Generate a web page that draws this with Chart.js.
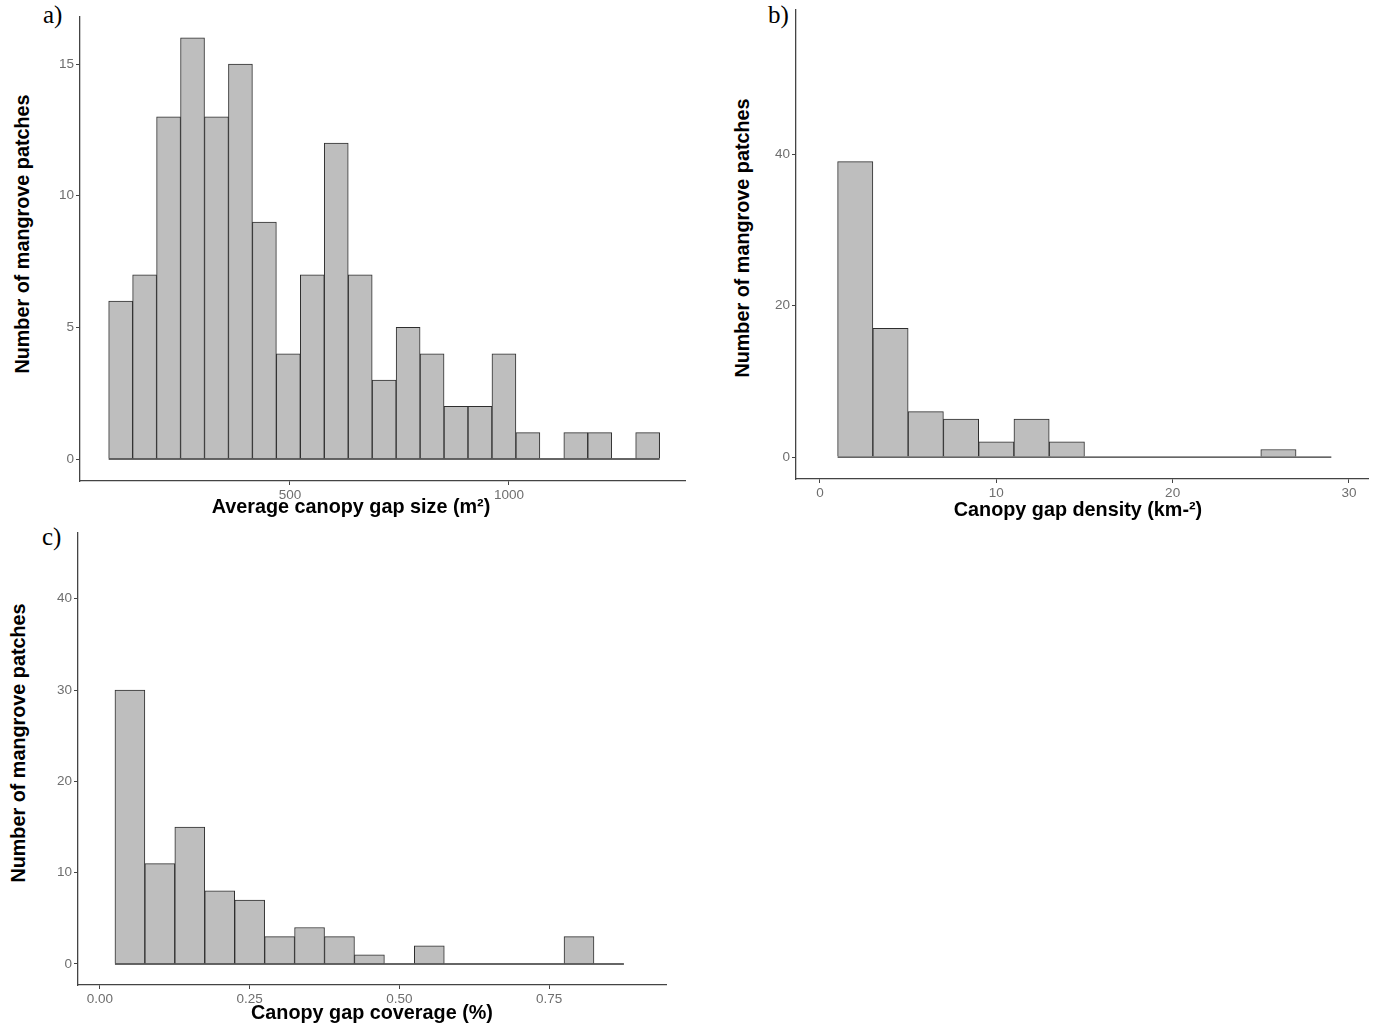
<!DOCTYPE html>
<html>
<head>
<meta charset="utf-8">
<title>Mangrove canopy gap histograms</title>
<script src="https://cdn.jsdelivr.net/npm/chart.js@4.4.1/dist/chart.umd.min.js"></script>
<style>
  body { margin: 0; background: #fff; width: 1384px; height: 1027px; position: relative; overflow: hidden;
         font-family: "Liberation Sans", Arial, sans-serif; }
  canvas { position: absolute; }
  .xtitle, .ytitle { position: absolute; font-weight: bold; font-size: 19.8px; white-space: nowrap; color: #000;
                     transform: translate(-50%, -50%); }
  .ytitle { transform: translate(-50%, -50%) rotate(-90deg); }
  .tag { position: absolute; font-family: "Liberation Serif", "Times New Roman", serif; font-size: 25px; color: #000; }
</style>
</head>
<body>

<div class="tag" style="left:43px; top:1px;">a)</div>
<div class="tag" style="left:768px; top:1px;">b)</div>
<div class="tag" style="left:42px; top:523px;">c)</div>

<canvas id="sizeChart" style="left:40px; top:5px;" width="657" height="498"></canvas>
<canvas id="densityChart" style="left:756px; top:0px;" width="624" height="501"></canvas>
<canvas id="coverageChart" style="left:38px; top:521px;" width="640" height="486"></canvas>

<div class="ytitle" style="left:22px; top:234px;">Number of mangrove patches</div>
<div class="xtitle" style="left:351px; top:506px;">Average canopy gap size (m²)</div>
<div class="ytitle" style="left:742px; top:238px;">Number of mangrove patches</div>
<div class="xtitle" style="left:1078px; top:509px;">Canopy gap density (km-²)</div>
<div class="ytitle" style="left:18px; top:743px;">Number of mangrove patches</div>
<div class="xtitle" style="left:372px; top:1012px;">Canopy gap coverage (%)</div>

<script>
// a) average canopy gap size (m²)
const sizeBinStart = 86;
const sizeBinWidth = 54.7;
const sizeCounts = [6, 7, 13, 16, 13, 15, 9, 4, 7, 12, 7, 3, 5, 4, 2, 2, 4, 1, 0, 1, 1, 0, 1];
const sizeXTicks = [500, 1000];
const sizeYTicks = [0, 5, 10, 15];

// b) canopy gap density (km-²)
const densityBinStart = 1;
const densityBinWidth = 2;
const densityCounts = [39, 17, 6, 5, 2, 5, 2, 0, 0, 0, 0, 0, 1, 0];
const densityXTicks = [0, 10, 20, 30];
const densityYTicks = [0, 20, 40];

// c) canopy gap coverage (%)
const coverageBinStart = 0.025;
const coverageBinWidth = 0.05;
const coverageCounts = [30, 11, 15, 8, 7, 3, 4, 3, 1, 0, 2, 0, 0, 0, 0, 3, 0];
const coverageXTicks = [0, 0.25, 0.5, 0.75];
const coverageYTicks = [0, 10, 20, 30, 40];

const tickFont = { family: 'Liberation Sans, Arial, sans-serif', size: 13.5 };
const tickColor = '#6e6e6e';
const axisColor = '#444';

function histogram(id, start, width, counts, xTicks, yTicks, xRange, yRange, padTop, xLabel) {
    // bars sit on bin centres, the zero line runs over the full binned range
    const bars = counts.map((c, i) => ({ x: start + (i + 0.5) * width, y: c }));
    const baseline = [{ x: start, y: 0 }, { x: start + counts.length * width, y: 0 }];

    return new Chart(document.getElementById(id), {
        type: 'bar',
        data: {
            datasets: [
                {
                    type: 'line',
                    data: baseline,
                    borderColor: '#333',
                    borderWidth: 1.3,
                    pointRadius: 0,
                    order: 0
                },
                {
                    data: bars,
                    backgroundColor: '#bebebe',
                    borderColor: '#2e2e2e',
                    borderWidth: 1,
                    barPercentage: 1,
                    categoryPercentage: 1,
                    order: 1
                }
            ]
        },
        options: {
            responsive: false,
            animation: false,
            layout: { padding: { top: padTop, right: 12, left: 0, bottom: 0 } },
            plugins: { legend: { display: false }, tooltip: { enabled: false } },
            scales: {
                x: {
                    type: 'linear',
                    offset: false,
                    min: xRange[0],
                    max: xRange[1],
                    afterBuildTicks: s => { s.ticks = xTicks.map(v => ({ value: v })); },
                    afterFit: s => { s.height = 22; },
                    grid: { offset: false, drawOnChartArea: false, tickLength: 4, color: axisColor },
                    border: { color: axisColor, width: 1.3 },
                    ticks: { padding: 2, color: tickColor, font: tickFont, maxRotation: 0, callback: xLabel }
                },
                y: {
                    min: yRange[0],
                    max: yRange[1],
                    afterBuildTicks: s => { s.ticks = yTicks.map(v => ({ value: v })); },
                    afterFit: s => { s.width = 40; },
                    grid: { drawOnChartArea: false, tickLength: 4, color: axisColor },
                    border: { color: axisColor, width: 1.3 },
                    ticks: { padding: 2, color: tickColor, font: tickFont }
                }
            }
        }
    });
}

histogram('sizeChart', sizeBinStart, sizeBinWidth, sizeCounts, sizeXTicks, sizeYTicks,
    [20.5, 1402], [-0.835, 16.79], 12, v => String(v));

histogram('densityChart', densityBinStart, densityBinWidth, densityCounts, densityXTicks, densityYTicks,
    [-1.36, 31.08], [-2.9, 59.0], 10, v => String(v));

histogram('coverageChart', coverageBinStart, coverageBinWidth, coverageCounts, coverageXTicks, coverageYTicks,
    [-0.0367, 0.9453], [-2.3, 47.2], 12, v => v.toFixed(2));
</script>
</body>
</html>
